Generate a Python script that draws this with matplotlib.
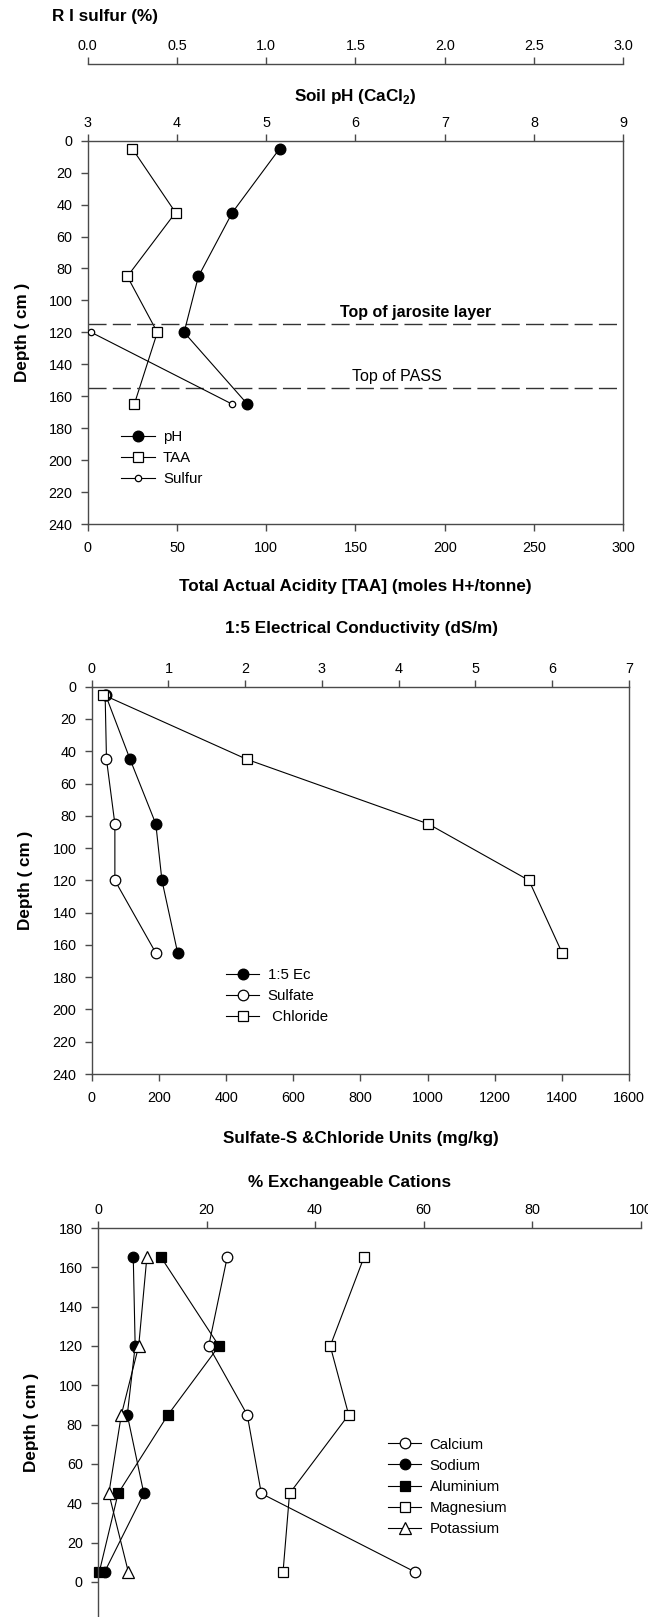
import matplotlib
matplotlib.use("Agg")
import matplotlib.pyplot as plt

plt.rcParams['font.family'] = ['Liberation Sans', 'DejaVu Sans']
plt.rcParams['mathtext.fontset'] = 'custom'
plt.rcParams['mathtext.rm'] = 'Liberation Sans'
plt.rcParams['mathtext.bf'] = 'Liberation Sans:bold'

# ---------------- data ----------------
depth = [5, 45, 85, 120, 165]
ph = [5.15, 4.62, 4.24, 4.08, 4.79]
taa = [25.0, 49.2, 22.2, 39.0, 26.1]
sulfur_depth = [120, 165]
sulfur = [0.02, 0.81]

ec = [0.18, 0.50, 0.835, 0.915, 1.12]
sulfate = [40, 44, 69, 69, 191]
chloride = [34, 462, 1002, 1302, 1401]

calcium = [58.5, 30.1, 27.5, 20.4, 23.8]
sodium = [1.2, 8.45, 5.4, 6.85, 6.5]
aluminium = [0.23, 3.7, 12.9, 22.3, 11.65]
magnesium = [34.1, 35.3, 46.2, 42.8, 49.0]
potassium = [5.6, 2.0, 4.3, 7.5, 9.0]

jarosite_depth = 115
pass_depth = 155

W, H = 648, 1617
fig = plt.figure(figsize=(W / 100, H / 100), dpi=100)

SPC = '#4a4a4a'
TICK_FS = 10.4
LEG_FS = 10.8
TITLE_FS = 12.3
LW = 0.8
LEG_KW = dict(frameon=False, fontsize=LEG_FS, handlelength=2.25,
              handletextpad=0.55, labelspacing=0.48, borderpad=0,
              borderaxespad=0, loc='upper left')


def fy(y):
    return 1 - y / H


def rect(x0, y0, x1, y1):
    return [x0 / W, fy(y1), (x1 - x0) / W, (y1 - y0) / H]


def style_spines(ax):
    for s in ax.spines.values():
        s.set_color(SPC)
        s.set_linewidth(1.0)


def ftext(x, y, s, **kw):
    fig.text(x / W, fy(y), s, **kw)


# ================= Panel 1 =================
ax1 = fig.add_axes(rect(87.7, 140.7, 623.3, 524))
style_spines(ax1)
ax1.set_xlim(0, 300)
ax1.set_ylim(240, 0)
ax1.set_xticks(range(0, 301, 50))
ax1.set_yticks(range(0, 241, 20))
ax1.tick_params(axis='x', direction='out', length=5, width=1, color=SPC,
                labelsize=TICK_FS, pad=7, top=False, bottom=True)
ax1.tick_params(axis='y', direction='out', length=5, width=1, color=SPC,
                labelsize=TICK_FS, pad=6, right=False)
ax1.set_ylabel('Depth ( cm )', fontsize=TITLE_FS, fontweight='bold')
ax1.yaxis.set_label_coords(-0.1068, 0.5)

h_taa, = ax1.plot(taa, depth, color='black', lw=LW, marker='s', ms=7.3,
                  mfc='white', mec='black', mew=0.9, label='TAA')
ax1.axhline(jarosite_depth, color='#333333', lw=1.0, dashes=(13, 4.5))
ax1.axhline(pass_depth, color='#333333', lw=1.0, dashes=(13, 4.5))

ax1p = ax1.twiny()
ax1p.set_xlim(3, 9)
ax1p.set_xticks(range(3, 10))
for s in ax1p.spines.values():
    s.set_visible(False)
ax1p.tick_params(axis='x', direction='out', length=5, width=1, color=SPC,
                 labelsize=TICK_FS, pad=3)
h_ph, = ax1p.plot(ph, depth, color='black', lw=LW, marker='o', ms=7.6,
                  mfc='black', mec='black', label='pH')

ax1s = ax1.twiny()
ax1s.set_xlim(0, 3)
ax1s.set_xticks([0.0, 0.5, 1.0, 1.5, 2.0, 2.5, 3.0])
ax1s.set_xticklabels(['0.0', '0.5', '1.0', '1.5', '2.0', '2.5', '3.0'])
for k, s in ax1s.spines.items():
    s.set_visible(k == 'top')
ax1s.spines['top'].set_position(('axes', (524 - 64) / (524 - 140.7)))
ax1s.spines['top'].set_color(SPC)
ax1s.spines['top'].set_linewidth(1.0)
ax1s.tick_params(axis='x', direction='out', length=5, width=1, color=SPC,
                 labelsize=TICK_FS, pad=3)
h_s, = ax1s.plot(sulfur, sulfur_depth, color='black', lw=LW, marker='o',
                 ms=4.6, mfc='white', mec='black', mew=0.9, label='Sulfur')

ax1s.legend(handles=[h_ph, h_taa, h_s],
            bbox_to_anchor=(121 / W, fy(430)), bbox_transform=fig.transFigure,
            **LEG_KW)

ftext(415.5, 312.3, 'Top of jarosite layer', ha='center', va='center',
      fontsize=11.5, fontweight='bold')
ftext(397, 376, 'Top of PASS', ha='center', va='center', fontsize=11.5)

ftext(51.7, 17, 'R I sulfur (%)', ha='left', va='center',
      fontsize=TITLE_FS, fontweight='bold')
ftext(355.5, 96.7, r'Soil pH (CaCl$_\mathbf{2}$)', ha='center', va='center',
      fontsize=TITLE_FS, fontweight='bold')
ftext(355.8, 586, 'Total Actual Acidity [TAA] (moles H+/tonne)',
      ha='center', va='center', fontsize=TITLE_FS, fontweight='bold')

# ================= Panel 2 =================
ax2 = fig.add_axes(rect(91.7, 686.7, 629, 1074))
style_spines(ax2)
ax2.set_xlim(0, 1600)
ax2.set_ylim(240, 0)
ax2.set_xticks(range(0, 1601, 200))
ax2.set_yticks(range(0, 241, 20))
ax2.tick_params(axis='x', direction='out', length=5, width=1, color=SPC,
                labelsize=TICK_FS, pad=7, top=False)
ax2.tick_params(axis='y', direction='out', length=5, width=1, color=SPC,
                labelsize=TICK_FS, pad=6, right=False)
ax2.set_ylabel('Depth ( cm )', fontsize=TITLE_FS, fontweight='bold')
ax2.yaxis.set_label_coords(-0.1093, 0.5)

h_cl, = ax2.plot(chloride, depth, color='black', lw=LW, marker='s', ms=7.3,
                 mfc='white', mec='black', mew=0.9, label=' Chloride', zorder=3)
h_so, = ax2.plot(sulfate, depth, color='black', lw=LW, marker='o', ms=7.6,
                 mfc='white', mec='black', mew=0.9, label='Sulfate', zorder=2)

ax2e = ax2.twiny()
ax2e.set_xlim(0, 7)
ax2e.set_xticks(range(0, 8))
for s in ax2e.spines.values():
    s.set_visible(False)
ax2e.tick_params(axis='x', direction='out', length=5, width=1, color=SPC,
                 labelsize=TICK_FS, pad=3)
h_ec, = ax2e.plot(ec, depth, color='black', lw=LW, marker='o', ms=7.6,
                  mfc='black', mec='black', label='1:5 Ec', zorder=1)
ax2.set_zorder(ax2e.get_zorder() + 1)
ax2.patch.set_visible(False)

ax2.legend(handles=[h_ec, h_so, h_cl],
           bbox_to_anchor=(225.7 / W, fy(968)), bbox_transform=fig.transFigure,
           **LEG_KW)

ftext(361.4, 628, '1:5 Electrical Conductivity (dS/m)', ha='center',
      va='center', fontsize=TITLE_FS, fontweight='bold')
ftext(361, 1138, 'Sulfate-S &Chloride Units (mg/kg)', ha='center',
      va='center', fontsize=TITLE_FS, fontweight='bold')

# ================= Panel 3 =================
ax3 = fig.add_axes(rect(98, 1228, 640.6, 1617))
style_spines(ax3)
ax3.spines['bottom'].set_visible(False)
ax3.spines['right'].set_visible(False)
ax3.set_xlim(0, 100)
ax3.set_ylim(-17.8, 180)
ax3.set_xticks(range(0, 101, 20))
ax3.set_yticks(range(0, 181, 20))
ax3.xaxis.tick_top()
ax3.tick_params(axis='x', direction='out', length=5, width=1, color=SPC,
                labelsize=TICK_FS, pad=3, bottom=False)
ax3.tick_params(axis='y', direction='out', length=5, width=1, color=SPC,
                labelsize=TICK_FS, pad=6, right=False)
ax3.set_ylabel('Depth ( cm )', fontsize=TITLE_FS, fontweight='bold')
ax3.yaxis.set_label_coords(-0.1087, 0.5)

kw = dict(color='black', lw=LW, mec='black', mew=0.9, clip_on=False)
h_ca, = ax3.plot(calcium, depth, marker='o', ms=7.6, mfc='white',
                 label='Calcium', **kw)
h_na, = ax3.plot(sodium, depth, marker='o', ms=7.6, mfc='black',
                 label='Sodium', **kw)
h_al, = ax3.plot(aluminium, depth, marker='s', ms=7.3, mfc='black',
                 label='Aluminium', **kw)
h_mg, = ax3.plot(magnesium, depth, marker='s', ms=7.3, mfc='white',
                 label='Magnesium', **kw)
h_k, = ax3.plot(potassium, depth, marker='^', ms=8.2, mfc='white',
                label='Potassium', **kw)

ax3.legend(handles=[h_ca, h_na, h_al, h_mg, h_k],
           bbox_to_anchor=(387.7 / W, fy(1437.5)),
           bbox_transform=fig.transFigure, **LEG_KW)

ftext(349.7, 1183, '% Exchangeable Cations', ha='center', va='center',
      fontsize=TITLE_FS, fontweight='bold')

fig.savefig('out.png', dpi=100)
